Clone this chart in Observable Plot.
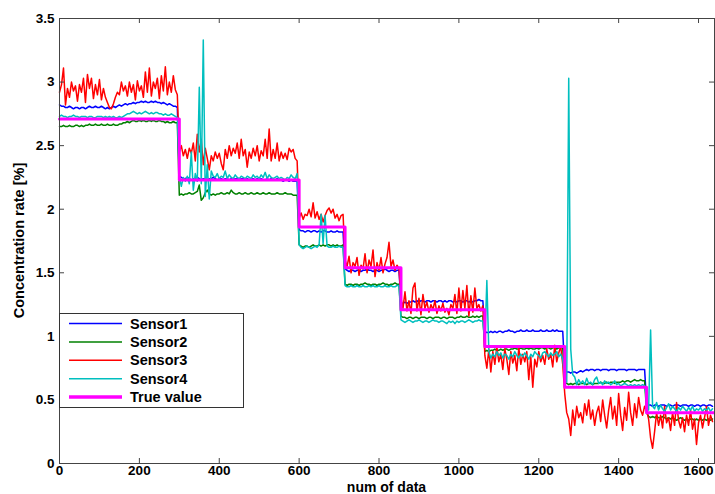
<!DOCTYPE html>
<html><head><meta charset="utf-8">
<script src="https://cdn.jsdelivr.net/npm/d3@7"></script>
<script src="https://cdn.jsdelivr.net/npm/@observablehq/plot@0.6"></script>
<style>
html,body{margin:0;padding:0;background:#fff;}
#chart{width:715px;height:494px;overflow:hidden;}
</style></head><body><div id="chart"></div>
<script>
// sample spacing of the readings below (num of data)
const SAMPLE_STEP = 5;

// Sensor1 (blue)
const sensor1 = [
  // 0..295
  2.82,2.81,2.81,2.80,2.80,2.81,2.80,2.79,2.80,2.80,
  2.79,2.80,2.80,2.79,2.80,2.81,2.80,2.80,2.81,2.80,
  2.80,2.81,2.80,2.79,2.80,2.79,2.80,2.81,2.80,2.81,
  2.82,2.81,2.82,2.83,2.82,2.83,2.83,2.84,2.83,2.84,
  2.84,2.85,2.84,2.85,2.84,2.84,2.85,2.84,2.85,2.84,
  2.84,2.83,2.84,2.83,2.82,2.83,2.82,2.81,2.81,2.80,
  // 300..595
  2.26,2.25,2.24,2.24,2.25,2.24,2.23,2.24,2.24,2.25,
  2.24,2.23,2.24,2.24,2.23,2.24,2.24,2.25,2.24,2.23,
  2.24,2.24,2.23,2.24,2.24,2.23,2.24,2.23,2.24,2.24,
  2.23,2.24,2.24,2.23,2.24,2.23,2.24,2.24,2.23,2.24,
  2.23,2.24,2.23,2.23,2.24,2.23,2.24,2.23,2.23,2.24,
  2.23,2.23,2.22,2.23,2.23,2.22,2.23,2.22,2.22,2.22,
  // 600..710
  1.84,1.83,1.83,1.82,1.83,1.83,1.82,1.83,1.83,1.82,
  1.83,1.82,1.83,1.83,1.82,1.82,1.83,1.82,1.82,1.83,
  1.82,1.82,1.82,
  // 715..850
  1.53,1.52,1.51,1.52,1.52,1.51,1.52,1.52,1.51,1.52,
  1.52,1.53,1.52,1.52,1.51,1.52,1.52,1.51,1.52,1.52,
  1.53,1.52,1.51,1.52,1.52,1.51,1.52,1.52,
  // 855..1060
  1.26,1.26,1.27,1.26,1.27,1.27,1.28,1.27,1.28,1.27,
  1.28,1.28,1.27,1.28,1.28,1.27,1.28,1.28,1.27,1.28,
  1.28,1.27,1.28,1.27,1.28,1.28,1.27,1.28,1.27,1.28,
  1.28,1.27,1.28,1.28,1.27,1.28,1.27,1.28,1.28,1.29,
  1.28,1.28,
  // 1065..1260
  1.04,1.03,1.03,1.04,1.03,1.04,1.03,1.04,1.04,1.03,
  1.04,1.04,1.05,1.04,1.04,1.03,1.04,1.04,1.05,1.04,
  1.04,1.05,1.04,1.04,1.05,1.04,1.04,1.04,1.05,1.04,
  1.04,1.05,1.04,1.04,1.05,1.04,1.05,1.04,1.04,1.04,
  // 1265..1465
  0.73,0.72,0.72,0.71,0.72,0.72,0.71,0.72,0.73,0.72,
  0.73,0.74,0.73,0.74,0.74,0.73,0.74,0.74,0.73,0.74,
  0.74,0.74,0.73,0.74,0.74,0.74,0.73,0.74,0.74,0.74,
  0.74,0.73,0.74,0.74,0.74,0.74,0.73,0.74,0.74,0.74,
  0.74,
  // 1470..1635
  0.47,0.46,0.46,0.45,0.46,0.46,0.45,0.46,0.46,0.46,
  0.45,0.46,0.46,0.45,0.46,0.46,0.46,0.45,0.46,0.46,
  0.46,0.45,0.46,0.46,0.45,0.46,0.46,0.45,0.46,0.46,
  0.45,0.46,0.46,0.45
];

// Sensor2 (green)
const sensor2 = [
  2.65,2.65,2.66,2.65,2.65,2.66,2.65,2.65,2.66,2.66,
  2.65,2.66,2.65,2.66,2.66,2.67,2.66,2.66,2.67,2.66,
  2.66,2.67,2.66,2.66,2.67,2.66,2.66,2.67,2.66,2.66,
  2.67,2.67,2.68,2.68,2.69,2.68,2.69,2.70,2.69,2.69,
  2.70,2.69,2.70,2.69,2.69,2.70,2.69,2.70,2.69,2.69,
  2.70,2.69,2.69,2.68,2.69,2.68,2.68,2.69,2.68,2.68,
  2.11,2.12,2.11,2.12,2.12,2.13,2.12,2.12,2.13,2.14,
  2.19,2.07,2.09,2.13,2.15,2.12,2.11,2.12,2.11,2.12,
  2.12,2.13,2.12,2.12,2.13,2.12,2.15,2.13,2.12,2.12,
  2.13,2.12,2.12,2.13,2.12,2.12,2.13,2.12,2.12,2.13,
  2.12,2.12,2.13,2.12,2.12,2.13,2.12,2.12,2.12,2.13,
  2.12,2.12,2.12,2.13,2.12,2.12,2.12,2.11,2.11,2.11,
  1.72,1.71,1.70,1.71,1.71,1.70,1.71,1.72,1.71,1.71,
  1.72,1.71,1.72,1.71,1.72,1.72,1.71,1.72,1.71,1.72,
  1.71,1.71,1.72,
  1.41,1.40,1.41,1.41,1.40,1.41,1.41,1.40,1.41,1.41,
  1.42,1.41,1.41,1.40,1.41,1.41,1.40,1.41,1.41,1.42,
  1.41,1.41,1.40,1.41,1.41,1.42,1.41,1.41,
  1.16,1.15,1.15,1.14,1.15,1.15,1.14,1.15,1.15,1.14,
  1.15,1.15,1.15,1.14,1.15,1.15,1.14,1.15,1.15,1.15,
  1.14,1.15,1.15,1.14,1.15,1.15,1.15,1.14,1.15,1.15,
  1.16,1.15,1.15,1.16,1.15,1.15,1.16,1.15,1.16,1.15,
  1.16,1.16,
  0.88,0.89,0.88,0.89,0.89,0.90,0.89,0.89,0.90,0.89,
  0.90,0.90,0.89,0.90,0.90,0.91,0.90,0.90,0.91,0.90,
  0.90,0.91,0.90,0.91,0.90,0.90,0.91,0.90,0.91,0.91,
  0.90,0.91,0.91,0.90,0.91,0.91,0.90,0.91,0.91,0.91,
  0.64,0.63,0.62,0.63,0.62,0.63,0.63,0.62,0.63,0.63,
  0.63,0.62,0.63,0.63,0.62,0.63,0.63,0.63,0.64,0.63,
  0.63,0.64,0.63,0.64,0.64,0.63,0.64,0.64,0.64,0.65,
  0.64,0.65,0.65,0.64,0.65,0.66,0.65,0.65,0.66,0.65,
  0.65,
  0.40,0.37,0.36,0.37,0.36,0.37,0.36,0.36,0.37,0.36,
  0.35,0.36,0.35,0.36,0.35,0.34,0.35,0.36,0.35,0.34,
  0.35,0.34,0.35,0.35,0.34,0.35,0.34,0.35,0.34,0.35,
  0.34,0.35,0.34,0.35
];

// Sensor3 (red)
const sensor3 = [
  2.92,2.98,3.11,2.82,2.95,2.88,3.00,2.93,2.97,2.85,
  2.98,2.92,3.03,2.84,3.06,2.95,3.03,2.87,2.98,2.90,
  3.02,2.86,2.95,2.88,2.84,2.80,2.79,2.83,2.88,2.92,
  2.90,3.00,2.93,2.97,2.89,3.00,2.92,2.98,2.86,3.01,
  2.93,2.97,2.88,3.08,2.92,3.11,2.89,3.00,2.95,3.03,
  2.87,3.05,2.93,3.12,2.90,3.00,2.92,3.05,2.94,2.90,
  2.45,2.50,2.42,2.47,2.40,2.48,2.44,2.52,2.38,2.59,
  2.45,2.55,2.35,2.48,2.40,2.31,2.42,2.38,2.45,2.40,
  2.44,2.36,2.31,2.47,2.40,2.50,2.42,2.48,2.44,2.52,
  2.40,2.55,2.42,2.47,2.33,2.45,2.40,2.48,2.42,2.50,
  2.38,2.46,2.42,2.55,2.40,2.63,2.38,2.47,2.40,2.52,
  2.38,2.45,2.40,2.44,2.39,2.48,2.45,2.47,2.40,2.38,
  1.93,1.97,1.92,1.96,1.95,2.00,1.94,2.05,1.93,1.98,
  1.92,1.96,1.90,1.95,1.99,2.01,1.97,2.00,1.93,1.96,
  1.91,1.95,1.96,
  1.60,1.55,1.63,1.50,1.58,1.55,1.62,1.48,1.56,1.53,
  1.65,1.50,1.60,1.55,1.68,1.47,1.58,1.52,1.62,1.50,
  1.57,1.62,1.74,1.55,1.60,1.52,1.56,1.53,
  1.30,1.22,1.35,1.20,1.28,1.18,1.38,1.42,1.20,1.30,
  1.17,1.33,1.22,1.27,1.19,1.25,1.21,1.28,1.18,1.24,
  1.20,1.26,1.19,1.22,1.17,1.25,1.22,1.33,1.18,1.38,
  1.20,1.36,1.22,1.40,1.16,1.32,1.19,1.38,1.22,1.25,
  1.20,1.24,
  0.85,0.75,0.90,0.72,0.88,0.78,0.92,0.80,0.86,0.74,
  0.90,0.82,0.70,0.88,0.79,0.85,0.73,0.91,0.78,0.86,
  0.80,0.88,0.66,0.84,0.60,0.82,0.76,0.88,0.80,0.85,
  0.78,0.90,0.82,0.86,0.76,0.93,0.80,0.87,0.92,0.78,
  0.55,0.40,0.35,0.22,0.42,0.30,0.45,0.36,0.40,0.32,
  0.47,0.38,0.50,0.35,0.42,0.30,0.40,0.45,0.33,0.50,
  0.38,0.28,0.42,0.52,0.35,0.45,0.30,0.55,0.38,0.26,
  0.44,0.34,0.56,0.40,0.30,0.47,0.36,0.52,0.42,0.38,
  0.45,
  0.42,0.35,0.20,0.12,0.25,0.40,0.30,0.38,0.28,0.45,
  0.32,0.36,0.26,0.40,0.30,0.48,0.34,0.28,0.36,0.25,
  0.38,0.30,0.42,0.27,0.35,0.15,0.32,0.38,0.28,0.36,
  0.45,0.30,0.38,0.33
];

// Sensor4 (cyan)
const sensor4 = [
  2.73,2.74,2.73,2.73,2.72,2.73,2.73,2.74,2.73,2.73,
  2.72,2.73,2.73,2.73,2.72,2.73,2.73,2.72,2.72,2.73,
  2.73,2.73,2.72,2.73,2.72,2.73,2.72,2.73,2.72,2.72,
  2.73,2.72,2.73,2.74,2.75,2.75,2.76,2.77,2.76,2.75,
  2.76,2.75,2.76,2.77,2.76,2.75,2.76,2.75,2.76,2.76,
  2.75,2.75,2.74,2.75,2.74,2.74,2.75,2.74,2.73,2.72,
  2.26,2.18,2.25,2.22,2.26,2.20,2.45,2.15,2.28,2.22,
  2.96,2.20,3.33,2.10,2.35,2.08,2.30,2.26,2.25,2.28,
  2.24,2.26,2.25,2.30,2.24,2.27,2.25,2.24,2.27,2.25,
  2.24,2.26,2.25,2.24,2.26,2.25,2.24,2.27,2.25,2.26,
  2.24,2.27,2.25,2.29,2.24,2.27,2.25,2.24,2.25,2.26,
  2.24,2.25,2.24,2.23,2.25,2.24,2.27,2.25,2.24,2.28,
  1.72,1.70,1.69,1.70,1.71,1.70,1.69,1.70,1.71,1.70,
  1.72,1.96,1.73,1.95,1.71,1.70,1.70,1.71,1.70,1.70,
  1.71,1.70,1.70,
  1.40,1.39,1.39,1.40,1.39,1.39,1.40,1.39,1.39,1.40,
  1.39,1.39,1.40,1.39,1.40,1.39,1.39,1.40,1.39,1.39,
  1.40,1.39,1.39,1.40,1.39,1.39,1.40,1.40,
  1.13,1.12,1.11,1.12,1.13,1.12,1.11,1.12,1.12,1.13,
  1.12,1.11,1.12,1.12,1.11,1.12,1.13,1.12,1.12,1.11,
  1.12,1.12,1.11,1.10,1.12,1.11,1.12,1.10,1.12,1.11,
  1.12,1.12,1.11,1.12,1.13,1.12,1.11,1.12,1.12,1.13,
  1.12,1.12,
  0.95,1.44,0.88,0.83,0.86,0.84,0.88,0.85,0.87,0.83,
  0.86,0.85,0.82,0.86,0.84,0.88,0.85,0.83,0.86,0.84,
  0.87,0.85,0.82,0.86,0.84,0.88,0.86,0.85,0.83,0.87,
  0.88,0.86,0.84,0.87,0.85,0.86,0.88,0.84,0.86,0.82,
  0.66,0.64,3.03,0.90,0.70,0.68,0.62,0.66,0.63,0.65,
  0.62,0.67,0.63,0.64,0.62,0.66,0.68,0.63,0.64,0.62,
  0.65,0.63,0.64,0.62,0.63,0.65,0.62,0.63,0.61,0.62,
  0.63,0.62,0.61,0.62,0.61,0.62,0.61,0.62,0.61,0.62,
  0.61,
  0.50,0.42,1.05,0.45,0.43,0.48,0.42,0.46,0.43,0.41,
  0.44,0.47,0.42,0.45,0.43,0.41,0.44,0.42,0.45,0.43,
  0.41,0.44,0.42,0.45,0.41,0.43,0.42,0.44,0.41,0.43,
  0.42,0.44,0.41,0.43
];

// True value: step levels and where each step starts
const trueLevels = [2.71, 2.23, 1.86, 1.54, 1.21, 0.92, 0.60, 0.40];
const stepBounds = [0, 300, 600, 715, 855, 1065, 1265, 1470, 1640];

const xTicks = [0, 200, 400, 600, 800, 1000, 1200, 1400, 1600];
const yTicks = [0, 0.5, 1, 1.5, 2, 2.5, 3, 3.5];
const seriesNames = ["Sensor1", "Sensor2", "Sensor3", "Sensor4"];
const seriesColors = ["#0000ff", "#008000", "#ff0000", "#00bfbf"];
const trueName = "True value";
const trueColor = "#ff00ff";
const xTitle = "num of data";
const yTitle = "Concentration rate [%]";

const W = 715, H = 494;
const mL = 59, mR = 1, mT = 18, mB = 31;
const plotW = W - mL - mR, plotH = H - mT - mB;
const FONT = "'Liberation Sans', Arial, Helvetica, sans-serif";

const rows = [];
[sensor1, sensor2, sensor3, sensor4].forEach((arr, k) =>
  arr.forEach((v, i) => rows.push({series: seriesNames[k], x: i * SAMPLE_STEP, y: v})));
const trueRows = trueLevels.map((v, i) => ({x: stepBounds[i], y: v}));
trueRows.push({x: stepBounds[stepBounds.length - 1], y: trueLevels[trueLevels.length - 1]});

const fmt = d => String(d);
const chart = Plot.plot({
  width: W, height: H,
  marginLeft: mL, marginRight: mR, marginTop: mT, marginBottom: mB,
  style: {fontFamily: FONT, fontSize: "13.5px", fontWeight: "bold", color: "#000", background: "#fff", overflow: "visible"},
  x: {domain: [stepBounds[0], stepBounds[stepBounds.length - 1]], label: null},
  y: {domain: [yTicks[0], yTicks[yTicks.length - 1]], label: null},
  color: {domain: seriesNames, range: seriesColors},
  marks: [
    Plot.line(rows, {x: "x", y: "y", z: "series", stroke: "series", strokeWidth: 1.5}),
    Plot.line(trueRows, {x: "x", y: "y", curve: "step-after", stroke: trueColor, strokeWidth: 3}),
    Plot.frame({stroke: "#444", strokeWidth: 1}),
    Plot.tickX(xTicks, {x: d => d, insetTop: plotH - 5, stroke: "#444"}),
    Plot.tickX(xTicks, {x: d => d, insetBottom: plotH - 5, stroke: "#444"}),
    Plot.tickY(yTicks, {y: d => d, insetRight: plotW - 5, stroke: "#444"}),
    Plot.tickY(yTicks, {y: d => d, insetLeft: plotW - 5, stroke: "#444"}),
    Plot.axisX(xTicks, {anchor: "bottom", tickSize: 0, tickPadding: 2, tickFormat: fmt, label: null, fill: "#000"}),
    Plot.axisY(yTicks, {anchor: "left", tickSize: 0, tickPadding: 5, tickFormat: fmt, label: null, fill: "#000"})
  ]
});
document.getElementById("chart").appendChild(chart);

const svg = d3.select(chart);
svg.append("text").text(xTitle)
  .attr("x", mL + plotW / 2).attr("y", H - 2.5)
  .attr("text-anchor", "middle").attr("font-family", FONT)
  .attr("font-size", 14).attr("font-weight", "bold").attr("fill", "#000");
svg.append("text").text(yTitle)
  .attr("transform", `translate(24,${mT + plotH / 2}) rotate(-90)`)
  .attr("text-anchor", "middle").attr("font-family", FONT)
  .attr("font-size", 14.5).attr("font-weight", "bold").attr("fill", "#000");

// legend (lower left, inside the axes)
const legendItems = seriesNames.map((n, i) => ({name: n, color: seriesColors[i], w: 1.5}))
  .concat([{name: trueName, color: trueColor, w: 3.5}]);
const lgX = mL, lgY = 313, lgW = 184, rowH = 18.4;
const lg = svg.append("g").attr("text-anchor", "start");
lg.append("rect").attr("x", lgX + 0.5).attr("y", lgY + 0.5)
  .attr("width", lgW).attr("height", rowH * legendItems.length + 2)
  .attr("fill", "#fff").attr("stroke", "#333").attr("stroke-width", 1);
legendItems.forEach((it, i) => {
  const cy = lgY + 10.5 + i * rowH;
  lg.append("line").attr("x1", lgX + 10).attr("x2", lgX + 63)
    .attr("y1", cy).attr("y2", cy).attr("stroke", it.color).attr("stroke-width", it.w);
  lg.append("text").text(it.name).attr("x", lgX + 71).attr("y", cy).attr("dy", "0.35em")
    .attr("text-anchor", "start")
    .attr("font-family", FONT).attr("font-size", 14.5).attr("font-weight", "bold").attr("fill", "#000");
});
</script></body></html>
